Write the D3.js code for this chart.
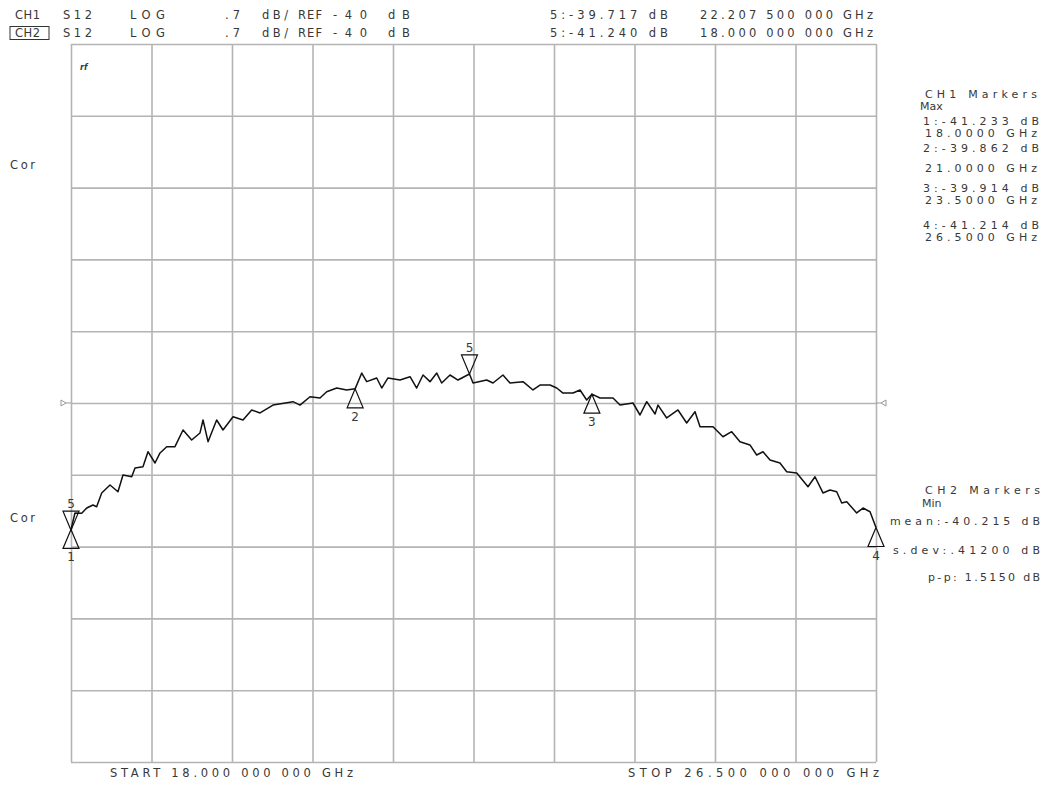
<!DOCTYPE html>
<html>
<head>
<meta charset="utf-8">
<script src="https://cdn.jsdelivr.net/npm/d3@7/dist/d3.min.js"></script>
<style>
  html, body { margin: 0; padding: 0; background: #fff; }
  svg { display: block; }
  text { font-family: "DejaVu Sans", "Liberation Sans", sans-serif; fill: #383838; }
</style>
</head>
<body>
<svg id="chart" width="1045" height="785"></svg>
<script>
// ---------------- DATA ----------------
const startGHz = 18.0, stopGHz = 26.5;
const refDb = -40, dbPerDiv = 0.7, divisions = 10;

const freqGHz = [
  18.000, 18.042, 18.113, 18.166, 18.232, 18.271, 18.324, 18.412, 18.496, 18.549,
  18.641, 18.676, 18.760, 18.813, 18.887, 18.940, 19.011, 19.098, 19.183, 19.274,
  19.362, 19.394, 19.447, 19.538, 19.605, 19.711, 19.816, 19.908, 19.996, 20.133,
  20.344, 20.418, 20.524, 20.629, 20.700, 20.806, 20.911, 21.000, 21.070, 21.122,
  21.228, 21.281, 21.347, 21.474, 21.580, 21.650, 21.717, 21.791, 21.862, 21.914,
  22.002, 22.086, 22.2075, 22.245, 22.389, 22.456, 22.561, 22.635, 22.773, 22.878,
  22.952, 23.058, 23.129, 23.195, 23.301, 23.375, 23.445, 23.500, 23.586, 23.723,
  23.797, 23.934, 24.008, 24.079, 24.167, 24.198, 24.290, 24.409, 24.501, 24.589,
  24.642, 24.779, 24.884, 24.976, 25.064, 25.169, 25.240, 25.307, 25.381, 25.486,
  25.557, 25.663, 25.782, 25.856, 25.940, 26.014, 26.085, 26.138, 26.191, 26.296,
  26.363, 26.437, 26.500
];
const ch1Db = [
  -41.233, -41.072, -41.075, -41.024, -40.994, -41.011, -40.877, -40.799, -40.865, -40.702,
  -40.719, -40.634, -40.621, -40.475, -40.585, -40.487, -40.426, -40.426, -40.263, -40.361,
  -40.292, -40.166, -40.377, -40.166, -40.263, -40.134, -40.166, -40.068, -40.097, -40.020,
  -39.987, -40.020, -39.939, -39.951, -39.890, -39.854, -39.873, -39.862, -39.708, -39.792,
  -39.756, -39.854, -39.756, -39.776, -39.744, -39.854, -39.727, -39.792, -39.708, -39.805,
  -39.727, -39.776, -39.717, -39.805, -39.776, -39.805, -39.727, -39.805, -39.792, -39.873,
  -39.825, -39.825, -39.854, -39.903, -39.903, -39.873, -39.971, -39.914, -39.951, -39.951,
  -40.020, -40.000, -40.117, -39.987, -40.107, -40.020, -40.146, -40.068, -40.195, -40.085,
  -40.231, -40.231, -40.329, -40.280, -40.377, -40.409, -40.507, -40.475, -40.556, -40.585,
  -40.670, -40.682, -40.816, -40.719, -40.877, -40.848, -40.865, -40.975, -40.962, -41.072,
  -41.024, -41.060, -41.214
];

// markers (CH1: 1..4 and active 5; CH2: active 5)
const markerLabels = ["1", "2", "3", "4", "5", "5"];
const markerFreqs  = [18.0, 21.0, 23.5, 26.5, 22.2075, 18.0];
const markerDb     = [-41.233, -39.862, -39.914, -41.214, -39.717, -41.240];
const markerActive = [false, false, false, false, true, true];

// annotation texts
const headerCh1 = ["CH1", "S12", "LOG", ".7", "dB/", "REF", "-40", "dB"];
const headerCh2 = ["CH2", "S12", "LOG", ".7", "dB/", "REF", "-40", "dB"];
const activeCh1 = ["5:-39.717 dB", "22.207 500 000 GHz"];
const activeCh2 = ["5:-41.240 dB", "18.000 000 000 GHz"];
const ch1Panel = ["CH1 Markers", "Max", "1:-41.233 dB", "18.0000 GHz", "2:-39.862 dB", "21.0000 GHz",
                  "3:-39.914 dB", "23.5000 GHz", "4:-41.214 dB", "26.5000 GHz"];
const ch2Panel = ["CH2 Markers", "Min", "mean:-40.215 dB", "s.dev:.41200 dB", "p-p: 1.5150 dB"];
const startLabel = "START 18.000 000 000 GHz";
const stopLabel = "STOP 26.500 000 000 GHz";
const corLabel = "Cor";

// ---------------- DRAW ----------------
const svg = d3.select("#chart");
const plot = { left: 71, right: 876, top: 44, bottom: 762 };

const x = d3.scaleLinear().domain([startGHz, stopGHz]).range([plot.left, plot.right]);
const y = d3.scaleLinear()
  .domain([refDb - dbPerDiv * divisions / 2, refDb + dbPerDiv * divisions / 2])
  .range([plot.bottom, plot.top]);

const xGrid = d3.range(divisions + 1).map(i => startGHz + i * (stopGHz - startGHz) / divisions);
const yGrid = d3.range(divisions + 1).map(i => y.domain()[0] + i * dbPerDiv);

const gridColor = "#b4b4b4";
svg.append("g").attr("class", "grid-x")
  .call(d3.axisBottom(x).tickValues(xGrid).tickSize(-(plot.bottom - plot.top)).tickFormat(""))
  .attr("transform", `translate(0,${plot.bottom})`)
  .call(g => g.select(".domain").remove())
  .call(g => g.selectAll("line").attr("stroke", gridColor).attr("stroke-width", 1.6));
svg.append("g").attr("class", "grid-y")
  .call(d3.axisLeft(y).tickValues(yGrid).tickSize(-(plot.right - plot.left)).tickFormat(""))
  .attr("transform", `translate(${plot.left},0)`)
  .call(g => g.select(".domain").remove())
  .call(g => g.selectAll("line").attr("stroke", gridColor).attr("stroke-width", 1.6));

// reference position indicators
const yRef = y(refDb);
svg.append("path")
  .attr("d", `M${plot.left - 10},${yRef - 3} L${plot.left - 5},${yRef} L${plot.left - 10},${yRef + 3} Z M${plot.left - 5},${yRef} L${plot.left},${yRef}`)
  .attr("fill", "none").attr("stroke", "#999").attr("stroke-width", 1);
svg.append("path")
  .attr("d", `M${plot.right + 10},${yRef - 3} L${plot.right + 5},${yRef} L${plot.right + 10},${yRef + 3} Z M${plot.right + 5},${yRef} L${plot.right},${yRef}`)
  .attr("fill", "none").attr("stroke", "#999").attr("stroke-width", 1);

// trace
const traceData = freqGHz.map((f, i) => [f, ch1Db[i]]);
svg.append("path")
  .datum(traceData)
  .attr("fill", "none")
  .attr("stroke", "#111")
  .attr("stroke-width", 1.5)
  .attr("stroke-linejoin", "round")
  .attr("d", d3.line().x(d => x(d[0])).y(d => y(d[1])));

// markers
const triW = 8, triH = 19;
markerLabels.forEach((lab, i) => {
  const mx = x(markerFreqs[i]), my = y(markerDb[i]);
  const g = svg.append("g");
  if (markerActive[i]) {
    g.append("path").attr("d", `M${mx},${my} L${mx - triW},${my - triH} L${mx + triW},${my - triH} Z`)
      .attr("fill", "none").attr("stroke", "#111").attr("stroke-width", 1.2);
    g.append("text").attr("x", mx).attr("y", my - triH - 3).attr("text-anchor", "middle")
      .attr("font-size", 12).text(lab);
  } else {
    g.append("path").attr("d", `M${mx},${my} L${mx - triW},${my + triH} L${mx + triW},${my + triH} Z`)
      .attr("fill", "none").attr("stroke", "#111").attr("stroke-width", 1.2);
    g.append("text").attr("x", mx).attr("y", my + triH + 13).attr("text-anchor", "middle")
      .attr("font-size", 12).text(lab);
  }
});

// text helper: x0..x1 span, cy = visual center
function label(str, x0, x1, cy, size) {
  const fs = size || 11;
  const t = svg.append("text")
    .attr("x", x0).attr("y", cy + fs * 0.36)
    .attr("font-size", fs)
    .text(str);
  if (x1 != null) t.attr("textLength", x1 - x0).attr("lengthAdjust", "spacing");
  return t;
}

// header line positions
const hdrSpans = [[15, 40], [63, 92], [130, 165], [225, 240], [262, 288], [298, 322], [333, 367], [388, 410]];
headerCh1.forEach((s, i) => label(s, hdrSpans[i][0], hdrSpans[i][1], 15, 11.5));
headerCh2.forEach((s, i) => label(s, hdrSpans[i][0], hdrSpans[i][1], 33, 11.5));
svg.append("rect").attr("x", 10).attr("y", 26.5).attr("width", 39).attr("height", 13)
  .attr("fill", "none").attr("stroke", "#333").attr("stroke-width", 1);

label(activeCh1[0], 550, 668, 15, 11.5);
label(activeCh1[1], 700, 873, 15, 11.5);
label(activeCh2[0], 550, 668, 33, 11.5);
label(activeCh2[1], 700, 873, 33, 11.5);

// CH1 marker panel
const p1 = [[925, 1037, 94.5], [920, null, 106], [923, 1039, 121], [925, 1037, 133], [923, 1039, 148],
            [925, 1037, 168], [923, 1039, 188.5], [925, 1037, 200.5], [923, 1039, 225.5], [925, 1037, 237.5]];
ch1Panel.forEach((s, i) => label(s, p1[i][0], p1[i][1], p1[i][2], 11));

// CH2 marker panel
const p2 = [[925, 1040, 490], [922, null, 503], [890, 1040, 521], [893, 1040, 550], [928, 1040, 577]];
ch2Panel.forEach((s, i) => label(s, p2[i][0], p2[i][1], p2[i][2], 11));

label(corLabel, 10, 35, 165, 11.5);
label(corLabel, 10, 35, 518, 11.5);

label(startLabel, 110, 353, 773, 11.5);
label(stopLabel, 628, 879, 773, 11.5);

// small indicator near top-left of grid
svg.append("text").attr("x", 80).attr("y", 70).attr("font-size", 8)
  .attr("font-style", "italic").attr("font-weight", "bold").text("rf");
</script>
</body>
</html>
